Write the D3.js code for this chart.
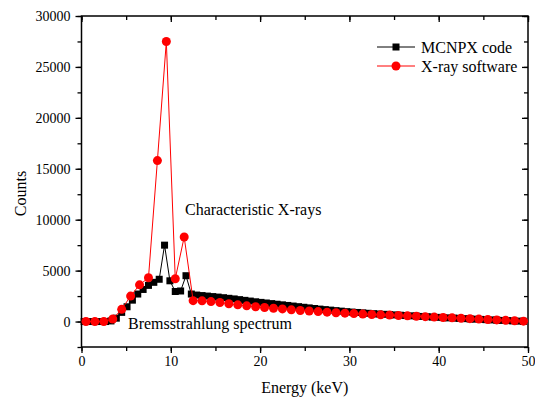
<!DOCTYPE html>
<html>
<head>
<meta charset="utf-8">
<script src="https://cdn.jsdelivr.net/npm/d3@7"></script>
</head>
<body style="margin:0; background:#fff">
<div id="chart"></div>
<script>
"use strict";

// MCNPX code (black squares)
var mcnpxEnergy = [0.3, 0.9, 1.5, 2.1, 2.7, 3.3, 3.9, 4.5, 5.1, 5.7, 6.3, 6.9, 7.5, 8.1, 8.7, 9.3, 9.9, 10.5, 11.1, 11.7,
	12.3, 12.9, 13.5, 14.1, 14.7, 15.3, 15.9, 16.5, 17.1, 17.7, 18.3, 18.9, 19.5, 20.1, 20.7, 21.3, 21.9, 22.5, 23.1, 23.7,
	24.3, 24.9, 25.5, 26.1, 26.7, 27.3, 27.9, 28.5, 29.1, 29.7, 30.3, 30.9, 31.5, 32.1, 32.7, 33.3, 33.9, 34.5, 35.1, 35.7,
	36.3, 36.9, 37.5, 38.1, 38.7, 39.3, 39.9, 40.5, 41.1, 41.7, 42.3, 42.9, 43.5, 44.1, 44.7, 45.3, 45.9, 46.5, 47.1, 47.7,
	48.3, 48.9, 49.5];
var mcnpxCounts = [0, 0, 0, 0, 0, 60, 330, 900, 1450, 2100, 2700, 3150, 3550, 3850, 4150, 7500, 4000, 2950, 3000, 4500,
	2700, 2600, 2550, 2500, 2450, 2400, 2340, 2280, 2220, 2150, 2080, 2010, 1940, 1880, 1820, 1760, 1700, 1640, 1580, 1520,
	1460, 1400, 1340, 1280, 1220, 1170, 1120, 1070, 1020, 970, 930, 890, 850, 810, 770, 740, 710, 680, 650, 620,
	590, 560, 530, 500, 470, 440, 410, 385, 360, 335, 310, 285, 260, 235, 210, 185, 160, 135, 110, 90,
	65, 40, 20];

// X-ray software (red circles)
var xraySoftEnergy = [0.5, 1.5, 2.5, 3.5, 4.5, 5.5, 6.5, 7.5, 8.5, 9.5, 10.5, 11.5, 12.5, 13.5, 14.5, 15.5, 16.5, 17.5, 18.5, 19.5,
	20.5, 21.5, 22.5, 23.5, 24.5, 25.5, 26.5, 27.5, 28.5, 29.5, 30.5, 31.5, 32.5, 33.5, 34.5, 35.5, 36.5, 37.5, 38.5, 39.5,
	40.5, 41.5, 42.5, 43.5, 44.5, 45.5, 46.5, 47.5, 48.5, 49.5];
var xraySoftCounts = [0, 0, 0, 250, 1200, 2500, 3600, 4300, 15800, 27500, 4200, 8300, 2050, 2030, 1960, 1870, 1750, 1640, 1540, 1450,
	1380, 1310, 1240, 1150, 1080, 1040, 980, 920, 860, 820, 780, 730, 690, 660, 630, 590, 560, 520, 480, 440,
	400, 360, 320, 280, 240, 200, 160, 120, 80, 40];

var xTicks = [0, 10, 20, 30, 40, 50],
	yTicks = [0, 5000, 10000, 15000, 20000, 25000, 30000],
	seriesNames = ["MCNPX code", "X-ray software"];

var width = 535,
	height = 400,
	plotLeft = 81.5,
	plotRight = 528,
	plotTop = 16,
	plotBottom = 347,
	serif = "'Liberation Serif'",
	x = d3.scaleLinear().domain([0, 50]).range([plotLeft, plotRight]),
	y = d3.scaleLinear().domain([-2500, 30000]).range([plotBottom, plotTop]);

var svg = d3.select("#chart")
	.append("svg")
	.attr("width", width)
	.attr("height", height);

function pairs(xs, ys) {
	return xs.map(function(d, i) { return [d, ys[i]]; });
}

var black = pairs(mcnpxEnergy, mcnpxCounts),
	red = pairs(xraySoftEnergy, xraySoftCounts),
	line = d3.line()
		.x(function(d) { return x(d[0]); })
		.y(function(d) { return y(d[1]); });

// axes: bottom/left ticks out, top/right ticks in
var minorX = d3.range(0, 51, 5),
	minorY = d3.range(-2500, 30001, 2500);

svg.append("g")
	.attr("transform", "translate(0," + plotBottom + ")")
	.call(d3.axisBottom(x).tickValues(minorX).tickSize(4).tickFormat(""));
svg.append("g")
	.attr("transform", "translate(0," + plotBottom + ")")
	.call(d3.axisBottom(x).tickValues(xTicks).tickSize(6).tickPadding(3).tickFormat(d3.format("d")));
svg.append("g")
	.attr("transform", "translate(0," + plotTop + ")")
	.call(d3.axisTop(x).tickValues(minorX).tickSize(-4).tickFormat(""));
svg.append("g")
	.attr("transform", "translate(0," + plotTop + ")")
	.call(d3.axisTop(x).tickValues(xTicks).tickSize(-6).tickFormat(""));

svg.append("g")
	.attr("transform", "translate(" + plotLeft + ",0)")
	.call(d3.axisLeft(y).tickValues(minorY).tickSize(4).tickFormat(""));
svg.append("g")
	.attr("transform", "translate(" + plotLeft + ",0)")
	.call(d3.axisLeft(y).tickValues(yTicks).tickSize(6).tickPadding(5).tickFormat(d3.format("d")));
svg.append("g")
	.attr("transform", "translate(" + plotRight + ",0)")
	.call(d3.axisRight(y).tickValues(minorY).tickSize(-4).tickFormat(""));
svg.append("g")
	.attr("transform", "translate(" + plotRight + ",0)")
	.call(d3.axisRight(y).tickValues(yTicks).tickSize(-6).tickFormat(""));

svg.selectAll(".tick line")
	.attr("stroke", "#000")
	.attr("stroke-width", 1.3);
svg.selectAll(".domain").remove();
svg.append("rect")
	.attr("x", plotLeft)
	.attr("y", plotTop)
	.attr("width", plotRight - plotLeft)
	.attr("height", plotBottom - plotTop)
	.attr("fill", "none")
	.attr("stroke", "#000")
	.attr("stroke-width", 1.5);
svg.selectAll(".tick text")
	.attr("font-family", serif)
	.attr("font-size", 14)
	.attr("fill", "#000");

// series
svg.append("path")
	.datum(black)
	.attr("fill", "none")
	.attr("stroke", "#000")
	.attr("stroke-width", 1)
	.attr("d", line);
svg.append("g")
	.selectAll("rect")
	.data(black)
	.enter()
	.append("rect")
	.attr("x", function(d) { return x(d[0]) - 3.5; })
	.attr("y", function(d) { return y(d[1]) - 3.5; })
	.attr("width", 7)
	.attr("height", 7)
	.attr("fill", "#000");

svg.append("path")
	.datum(red)
	.attr("fill", "none")
	.attr("stroke", "#ff0000")
	.attr("stroke-width", 1)
	.attr("d", line);
svg.append("g")
	.selectAll("circle")
	.data(red)
	.enter()
	.append("circle")
	.attr("cx", function(d) { return x(d[0]); })
	.attr("cy", function(d) { return y(d[1]); })
	.attr("r", 4.5)
	.attr("fill", "#ff0000");

// legend
var legend = svg.append("g").attr("transform", "translate(377,47)");
legend.append("line").attr("x1", 0).attr("x2", 38).attr("y1", 0).attr("y2", 0).attr("stroke", "#000");
legend.append("rect").attr("x", 15.5).attr("y", -3.5).attr("width", 7).attr("height", 7).attr("fill", "#000");
legend.append("text").attr("x", 44).attr("y", 5.5).text(seriesNames[0]);
legend.append("line").attr("x1", 0).attr("x2", 38).attr("y1", 19).attr("y2", 19).attr("stroke", "#ff0000");
legend.append("circle").attr("cx", 19).attr("cy", 19).attr("r", 4.5).attr("fill", "#ff0000");
legend.append("text").attr("x", 44).attr("y", 24.5).text(seriesNames[1]);

// annotations
svg.append("text")
	.attr("x", 185)
	.attr("y", 214.5)
	.text("Characteristic X-rays");
svg.append("text")
	.attr("x", 128)
	.attr("y", 328.5)
	.text("Bremsstrahlung spectrum");

// axis titles
svg.append("text")
	.attr("x", (plotLeft + plotRight) / 2)
	.attr("y", 393)
	.attr("text-anchor", "middle")
	.text("Energy (keV)");
svg.append("text")
	.attr("transform", "translate(26," + ((plotTop + plotBottom) / 2 + 12) + ") rotate(-90)")
	.attr("text-anchor", "middle")
	.text("Counts");

svg.selectAll("svg > text, g > text")
	.filter(function() { return !d3.select(this.parentNode).classed("tick"); })
	.attr("font-family", serif)
	.attr("font-size", 16)
	.attr("fill", "#000");
</script>
</body>
</html>
